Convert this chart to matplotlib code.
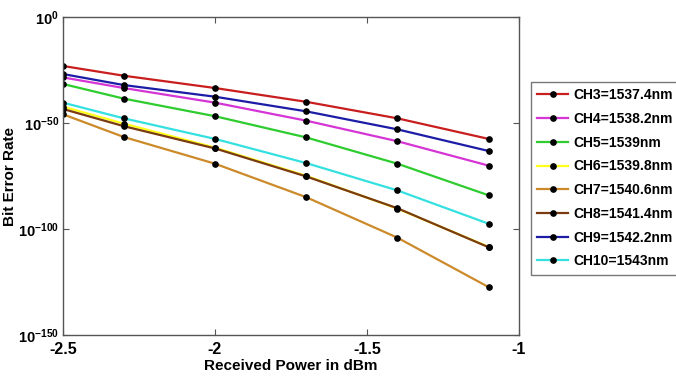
import matplotlib
matplotlib.use("Agg")
import matplotlib.pyplot as plt
import numpy as np

plt.rcParams['font.family'] = ['Liberation Sans', 'DejaVu Sans']
plt.rcParams['mathtext.fontset'] = 'custom'
plt.rcParams['mathtext.rm'] = 'Liberation Sans:bold'
plt.rcParams['mathtext.bf'] = 'Liberation Sans:bold'
plt.rcParams['mathtext.it'] = 'Liberation Sans:bold'

power = [-2.5, -2.3, -2.0, -1.7, -1.4, -1.1]
labels = ["CH3=1537.4nm", "CH4=1538.2nm", "CH5=1539nm", "CH6=1539.8nm",
          "CH7=1540.6nm", "CH8=1541.4nm", "CH9=1542.2nm", "CH10=1543nm"]
colors = ["#C81E1E", "#D535D5", "#2ECC2E", "#FFFF1A", "#CC8A2A", "#7A3A12", "#1C1CA6", "#35E0E0"]
# log10(BER)
ch3 = [-23.1, -27.7, -33.5, -40.0, -47.8, -57.5]
ch4 = [-28.5, -33.5, -40.4, -48.9, -58.6, -70.1]
ch5 = [-31.6, -38.5, -46.8, -56.8, -69.2, -84.1]
ch6 = [-42.3, -50.3, -61.6, -74.9, -90.4, -108.4]
ch7 = [-45.9, -56.6, -69.2, -85.0, -104.1, -127.4]
ch8 = [-43.4, -51.5, -62.0, -75.2, -90.2, -108.6]
ch9 = [-26.9, -32.1, -37.6, -44.5, -53.0, -63.2]
ch10 = [-40.4, -47.8, -57.5, -68.9, -81.8, -97.5]
series = [ch3, ch4, ch5, ch6, ch7, ch8, ch9, ch10]

xticks = [-2.5, -2, -1.5, -1]
xticklabels = ["-2.5", "-2", "-1.5", "-1"]
yticks_exp = [0, -50, -100, -150]

fig = plt.figure(figsize=(6.76, 3.76), dpi=100)
ax = fig.add_axes([63/676, 1-335/376, (519-63)/676, (335-17)/376])

for s, c, lab in zip(series, colors, labels):
    ax.semilogy(power, [10.0**v for v in s], '-', color=c, lw=1.6, label=lab,
                marker='o', markersize=3.8, markerfacecolor='black', markeredgecolor='black')

ax.set_xlim(-2.5, -1)
ax.set_ylim(1e-150, 1e0)
ax.set_xticks(xticks)
ax.set_xticklabels(xticklabels, fontsize=11.5, fontweight='bold')
ax.set_yticks([10.0**e for e in yticks_exp])
ax.set_yticklabels([r'$\mathbf{10^{%d}}$' % e for e in yticks_exp], fontsize=10.5)
ax.yaxis.set_minor_locator(matplotlib.ticker.NullLocator())
ax.tick_params(direction='in', top=True, right=True, length=4, width=0.8, color='#555555')
ax.tick_params(axis='x', pad=5)
ax.tick_params(axis='y', pad=3)
for sp in ax.spines.values():
    sp.set_color('#555555')
    sp.set_linewidth(1.0)

ax.set_xlabel("Received Power in dBm", fontsize=11, fontweight='bold')
ax.xaxis.set_label_coords(0.5, -0.075)
ax.set_ylabel("Bit Error Rate", fontsize=11, fontweight='bold')
ax.yaxis.set_label_coords(-0.1, 0.5)

leg = fig.legend(loc='upper left', bbox_to_anchor=(531/676, 1-82/376), borderaxespad=0,
                 fancybox=False, frameon=True, edgecolor='#555555', fontsize=10,
                 handlelength=2.2, handletextpad=0.4, labelspacing=0.7, borderpad=0.45)
for t in leg.get_texts():
    t.set_fontweight('bold')
leg.get_frame().set_linewidth(1.0)

fig.savefig("out.png", dpi=100)
